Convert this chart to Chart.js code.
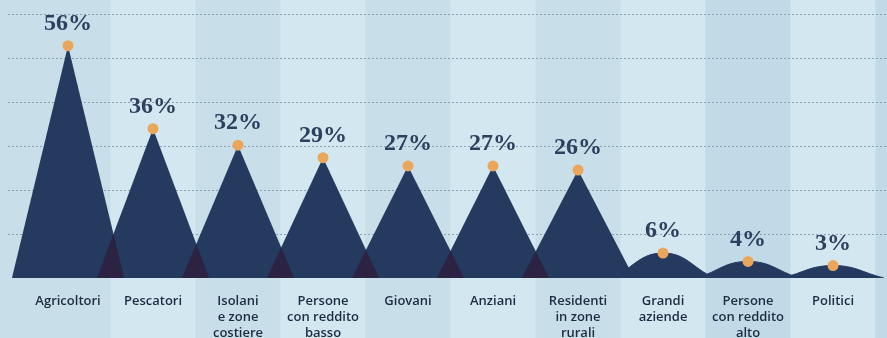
<!DOCTYPE html>
<html lang="it">
<head>
    <meta charset="UTF-8">
    <title>Peaks</title>
    <style>
        html, body {
            margin: 0;
            padding: 0;
            background: #cde3ed;
        }
        .wrap {
            position: relative;
            width: 887px;
            height: 338px;
        }
    </style>
    <script src="https://cdn.jsdelivr.net/npm/chart.js"></script>
</head>
<body>
    <div class="wrap">
        <canvas id="chart" width="887" height="338"></canvas>
    </div>

    <script>
        // data
        const categories = [
            'Agricoltori', 'Pescatori', ['Isolani', 'e zone', 'costiere'],
            ['Persone', 'con reddito', 'basso'], 'Giovani', 'Anziani',
            ['Residenti', 'in zone', 'rurali'], ['Grandi', 'aziende'],
            ['Persone', 'con reddito', 'alto'], 'Politici'
        ];
        const values = [56, 36, 32, 29, 27, 27, 26, 6, 4, 3];
        const gridValues = [10.6, 21.1, 31.7, 42.2, 52.8, 63.4];

        const navy = '#243a5e';
        const overlap = '#2b2341';
        const orange = '#eaa75c';
        const half = 0.66;      // half base of a peak, in category units
        const smallHalf = 0.6;  // low values drawn as soft bumps

        const datasets = [];

        // peaks
        values.forEach((v, i) => {
            const small = v < 10;
            const h = small ? smallHalf : half;
            datasets.push({
                data: [{ x: i - h, y: 0 }, { x: i, y: v }, { x: i + h, y: 0 }],
                backgroundColor: navy,
                borderColor: navy,
                borderWidth: small ? 1 : 0,
                fill: 'origin',
                pointRadius: 0,
                tension: small ? 0.45 : 0,
                order: 2
            });
        });

        // darker zones where two neighbouring peaks cross
        for (let i = 0; i < values.length - 1; i++) {
            const a = values[i], b = values[i + 1];
            if (a < 10 || b < 10) continue;
            const t = (a * half + b * (1 - half)) / (a + b);
            const y = a * (half - t) / half;
            datasets.push({
                data: [{ x: i + 1 - half, y: 0 }, { x: i + t, y: y }, { x: i + half, y: 0 }],
                backgroundColor: overlap,
                borderWidth: 0,
                fill: 'origin',
                pointRadius: 0,
                tension: 0,
                order: 1
            });
        }

        // dots on top
        datasets.push({
            data: values.map((v, i) => ({ x: i, y: v })),
            showLine: false,
            pointRadius: 5.5,
            pointBackgroundColor: orange,
            pointBorderWidth: 0,
            order: 0,
            isDots: true
        });

        // alternating background columns
        const bandsPlugin = {
            id: 'bands',
            beforeDraw(chart) {
                const { ctx, scales: { x }, width, height } = chart;
                const cols = ['#c8dfea', '#d3e7f0'];
                for (let i = 0; i <= values.length; i++) {
                    const l = i === 0 ? 0 : x.getPixelForValue(i - 0.5);
                    const r = i >= values.length ? width : x.getPixelForValue(i + 0.5);
                    ctx.fillStyle = i === 8 || i === values.length ? '#c1dae7' : cols[i % 2];
                    ctx.fillRect(l, 0, r - l, height);
                }
            }
        };

        // percentage labels
        const labelsPlugin = {
            id: 'pctLabels',
            afterDatasetsDraw(chart) {
                const { ctx } = chart;
                const idx = chart.data.datasets.findIndex(d => d.isDots);
                const meta = chart.getDatasetMeta(idx);
                ctx.save();
                ctx.font = 'bold 24px "Liberation Serif", serif';
                ctx.fillStyle = '#2c405f';
                ctx.textAlign = 'center';
                ctx.textBaseline = 'middle';
                meta.data.forEach((pt, i) => {
                    ctx.fillText(values[i] + '%', pt.x, pt.y - 22);
                });
                ctx.restore();
            }
        };

        new Chart(document.getElementById('chart'), {
            type: 'line',
            data: { datasets },
            options: {
                responsive: false,
                animation: false,
                layout: { autoPadding: false, padding: { left: 8, right: 0, top: 0, bottom: 0 } },
                plugins: {
                    legend: { display: false },
                    tooltip: { enabled: false }
                },
                scales: {
                    x: {
                        type: 'linear',
                        min: -0.706,
                        max: 9.635,
                        afterBuildTicks: (s) => { s.ticks = categories.map((c, i) => ({ value: i })); },
                        afterFit: (s) => {
                            s.height = 60;
                            s.paddingLeft = 0; s.paddingRight = 0;
                            s.paddingTop = 0; s.paddingBottom = 0;
                        },
                        grid: { display: false },
                        border: { display: false },
                        ticks: {
                            autoSkip: false,
                            maxRotation: 0,
                            padding: 7,
                            color: '#1c2c42',
                            font: { family: '"Open Sans", sans-serif', size: 13, weight: '600', lineHeight: 1.23 },
                            callback: (v) => categories[v]
                        }
                    },
                    y: {
                        min: 0,
                        max: 67,
                        afterBuildTicks: (s) => { s.ticks = gridValues.map(v => ({ value: v })); },
                        afterFit: (s) => {
                            s.width = 0;
                            s.paddingLeft = 0; s.paddingRight = 0;
                            s.paddingTop = 0; s.paddingBottom = 0;
                        },
                        border: { display: false, dash: [2, 2] },
                        ticks: { display: false },
                        grid: {
                            drawTicks: false,
                            color: '#8aa1b2',
                            lineWidth: 1
                        }
                    }
                }
            },
            plugins: [bandsPlugin, labelsPlugin]
        });
    </script>
</body>
</html>
